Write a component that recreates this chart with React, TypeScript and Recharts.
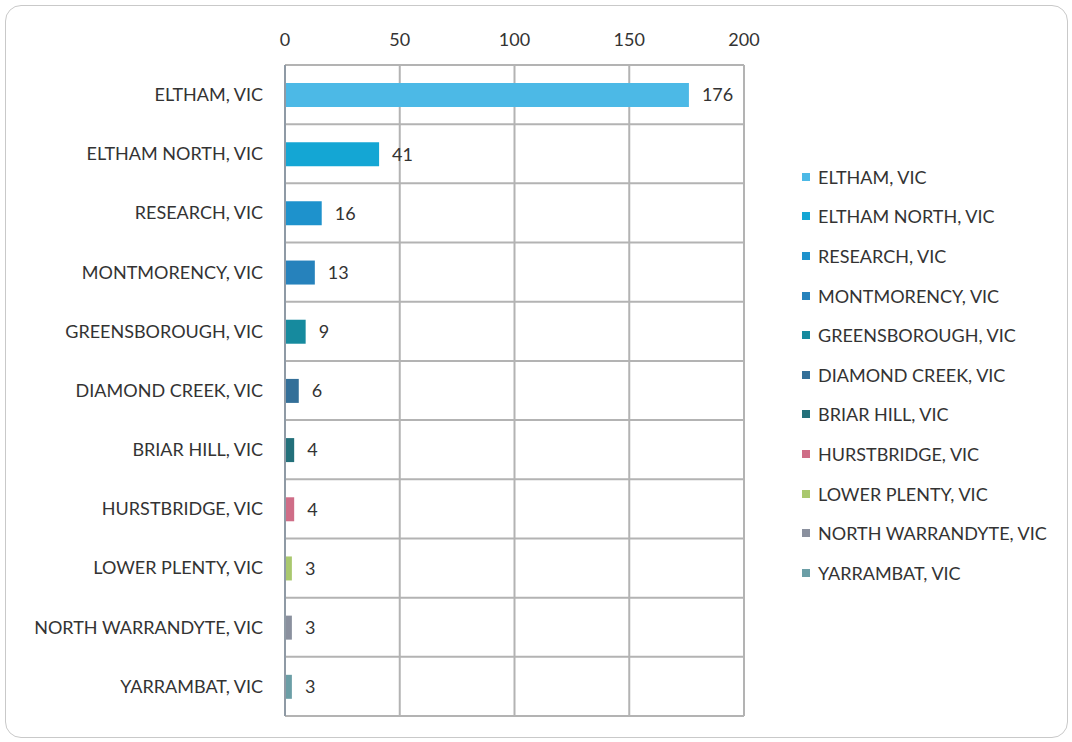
import React from "react";
import {
  Bar,
  BarChart,
  CartesianGrid,
  Cell,
  LabelList,
  Legend,
  XAxis,
  YAxis,
} from "recharts";

const suburbs = [
  "ELTHAM, VIC",
  "ELTHAM NORTH, VIC",
  "RESEARCH, VIC",
  "MONTMORENCY, VIC",
  "GREENSBOROUGH, VIC",
  "DIAMOND CREEK, VIC",
  "BRIAR HILL, VIC",
  "HURSTBRIDGE, VIC",
  "LOWER PLENTY, VIC",
  "NORTH WARRANDYTE, VIC",
  "YARRAMBAT, VIC",
];
const counts = [176, 41, 16, 13, 9, 6, 4, 4, 3, 3, 3];
const colors = [
  "#4cb9e6",
  "#14a6d4",
  "#1e92cc",
  "#2682bc",
  "#168a9e",
  "#336f98",
  "#23707a",
  "#cf6d87",
  "#a9c86e",
  "#8a909e",
  "#6b9ea6",
];
const xTicks = [0, 50, 100, 150, 200];

const data = suburbs.map((name, i) => ({ name, count: counts[i] }));

const FONT = "Lato, 'Open Sans', sans-serif";

// horizontal grid lines sit between the categories, not on them
const bandEdges = ({ offset }: any) =>
  [...suburbs.map((_, i) => i), suburbs.length].map(
    (i) => offset.top + (i * offset.height) / suburbs.length
  );

const SuburbLegend = () => (
  <div style={{ fontFamily: FONT, fontSize: 18, color: "#333" }}>
    {suburbs.map((name, i) => (
      <div
        key={name}
        style={{ display: "flex", alignItems: "center", height: 39.6 }}
      >
        <span
          style={{
            width: 8,
            height: 8,
            background: colors[i],
            marginRight: 8,
            display: "inline-block",
          }}
        />
        {name}
      </div>
    ))}
  </div>
);

export default function App() {
  return (
    <div
      style={{
        position: "absolute",
        left: 0,
        top: 0,
        width: 1072,
        height: 742,
        background: "#fff",
      }}
    >
      <div
        style={{
          position: "absolute",
          left: 5,
          top: 5,
          width: 1061,
          height: 731,
          border: "1.5px solid #c9c9c9",
          borderRadius: 16,
        }}
      />
      <BarChart
        width={1072}
        height={742}
        data={data}
        layout="vertical"
        margin={{ top: 35, right: 328, bottom: 26, left: 5 }}
        barSize={24}
      >
        <CartesianGrid
          stroke="#b3b3b3"
          strokeWidth={2}
          horizontal
          vertical
          horizontalCoordinatesGenerator={bandEdges}
        />
        <XAxis
          type="number"
          orientation="top"
          domain={[0, 200]}
          ticks={xTicks}
          height={30}
          axisLine={false}
          tickLine={false}
          tickSize={0}
          tickMargin={19}
          tick={{ fill: "#333", fontSize: 18, fontFamily: FONT }}
        />
        <YAxis
          type="category"
          dataKey="name"
          width={280}
          tickLine={false}
          tickSize={0}
          tickMargin={22}
          axisLine={{ stroke: "#8f9aa5", strokeWidth: 2 }}
          tick={{ fill: "#333", fontSize: 18, fontFamily: FONT }}
          interval={0}
        />
        <Legend
          layout="vertical"
          align="center"
          verticalAlign="middle"
          content={<SuburbLegend />}
          wrapperStyle={{ left: 802, top: 157, width: 268 }}
        />
        <Bar dataKey="count" isAnimationActive={false}>
          {data.map((d, i) => (
            <Cell key={d.name} fill={colors[i]} />
          ))}
          <LabelList
            dataKey="count"
            position="right"
            offset={13}
            fill="#333"
            fontSize={18}
            fontFamily={FONT}
          />
        </Bar>
      </BarChart>
    </div>
  );
}
